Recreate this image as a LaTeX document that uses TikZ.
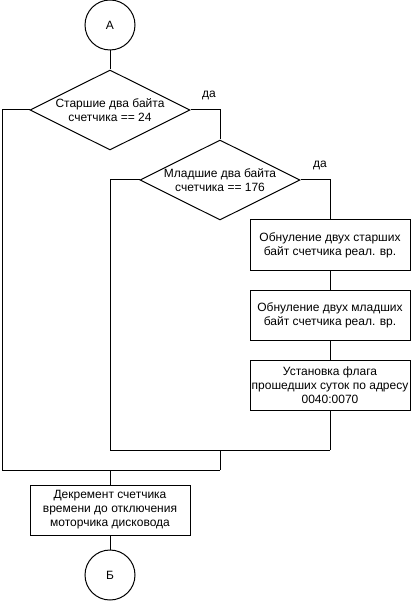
\documentclass[tikz,border=0pt]{standalone}
\usepackage{fontspec}
\setmainfont{Liberation Sans}
\usetikzlibrary{shapes.geometric}
\begin{document}
\begin{tikzpicture}[x=1pt,y=-1pt,
  every node/.style={font=\fontsize{12}{14}\selectfont},
  conn/.style={draw,line width=1pt},
  term/.style={circle,draw,line width=1pt,minimum size=50pt,inner sep=0pt},
  cond/.style={diamond,draw,line width=1pt,minimum width=160pt,minimum height=80pt,inner sep=0pt},
  proc/.style={rectangle,draw,line width=1pt,minimum width=160pt,minimum height=50pt,inner sep=0pt,align=center},
  lbl/.style={inner sep=0pt,align=center}]
\useasboundingbox (0,0) rectangle (411,601);
\node[term] (A) at (110,25) {А};
\node[cond,label={[lbl]center:Старшие два байта\\счетчика == 24}] (d1) at (110,110) {};
\node[cond,label={[lbl]center:Младшие два байта\\счетчика == 176}] (d2) at (220,180) {};
\node[proc] (b1) at (330,245) {Обнуление двух старших\\байт счетчика реал. вр.};
\node[proc] (b2) at (330,315) {Обнуление двух младших\\байт счетчика реал. вр.};
\node[proc] (b3) at (330,385) {Установка флага\\прошедших суток по адресу\\0040:0070};
\node[proc] (b4) at (110,510) {Декремент счетчика\\времени до отключения\\моторчика дисковода};
\node[term] (B) at (110,575) {Б};
\coordinate (c1) at (2,470);
\coordinate (m1) at (220,470);
\coordinate (m2) at (220,450);
\coordinate (c2) at (110,450);
\coordinate (c3) at (330,450);
\coordinate (c4) at (110,470);
\node[lbl] (y1) at (209,95) {да};
\node[lbl] (y2) at (320,165) {да};
\draw[conn] (A) -- (d1);
\draw[conn] (d1.west) -| (c1) -- (m1);
\draw[conn] (d1.east) -| (d2.north);
\draw[conn] (d2.west) -| (c2) -- (c3);
\draw[conn] (d2.east) -| (b1.north);
\draw[conn] (b1) -- (b2);
\draw[conn] (b2) -- (b3);
\draw[conn] (b3) -- (c3);
\draw[conn] (m2) -- (m1);
\draw[conn] (c4) -- (b4);
\draw[conn] (b4) -- (B);
\end{tikzpicture}
\end{document}
